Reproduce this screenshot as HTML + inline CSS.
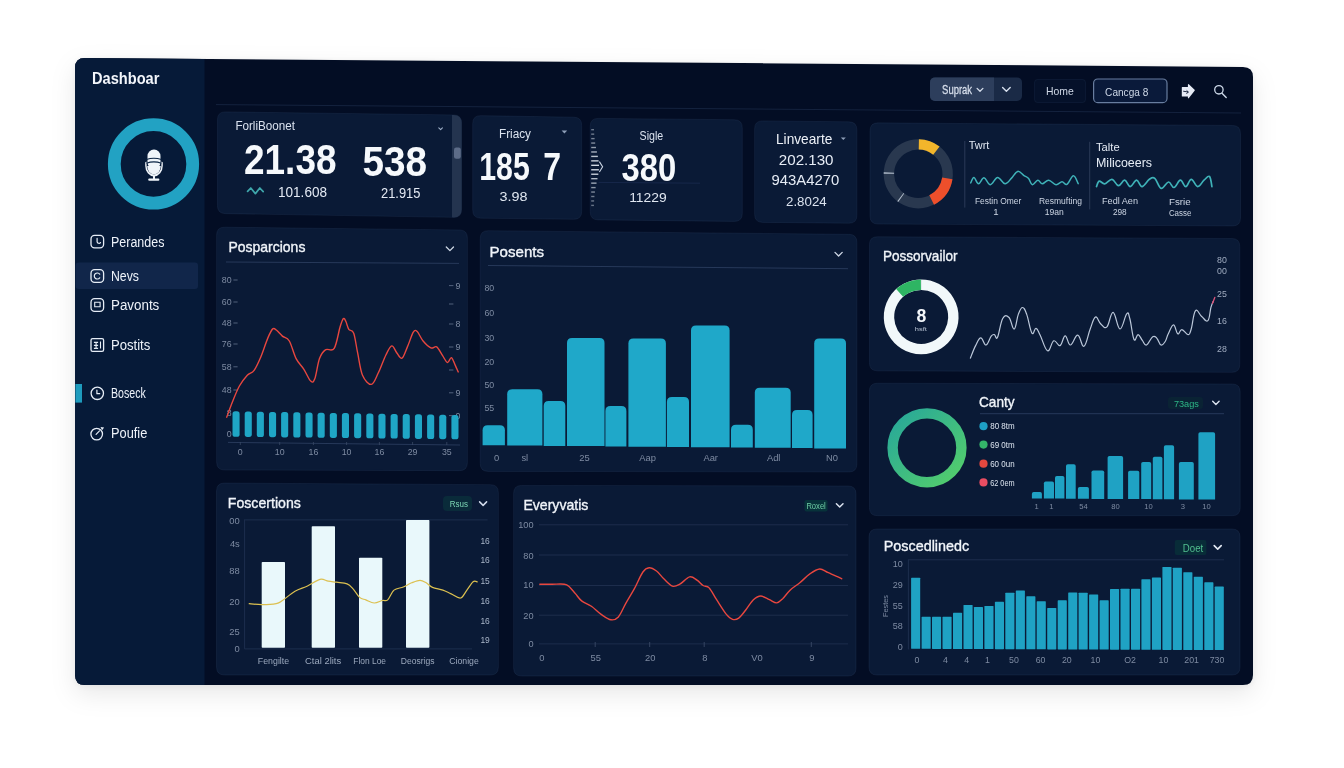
<!DOCTYPE html>
<html lang="en">
<head>
<meta charset="utf-8">
<title>Dashboard</title>
<style>
html,body{margin:0;padding:0;}
body{width:1344px;height:768px;background:#ffffff;position:relative;overflow:hidden;font-family:"Liberation Sans", sans-serif;}
.b{position:absolute;box-sizing:border-box;}
svg{position:absolute;left:0;top:0;will-change:transform;}
svg text{font-family:"Liberation Sans", sans-serif;}
</style>
</head>
<body>

<svg width="1344" height="768" viewBox="0 0 1344 768">
<defs>
<linearGradient id="gdon" x1="0" y1="0" x2="1" y2="1"><stop offset="0" stop-color="#27a79a"/><stop offset="1" stop-color="#55cf6a"/></linearGradient>
</defs>
<path d="M75,68 Q75,58 85,58.08 L1243,66.92 Q1253,67 1253,77 L1253,675 Q1253,685 1243,685 L85,685 Q75,685 75,675 Z" fill="#030d24" style="filter:drop-shadow(0 9px 12px rgba(0,0,0,0.09)) drop-shadow(0 1px 3px rgba(0,0,0,0.06));"/>
<path d="M75,68 Q75,58 85,58.08 L204.5,58.99 L204.5,685 L85,685 Q75,685 75,675 Z" fill="#061a38"/>
<line x1="216" y1="104.6" x2="1241" y2="113" stroke="#14223e" stroke-width="1"/>
<text x="92" y="84" font-size="16" fill="#f3f6fb" font-weight="700" textLength="67.4" lengthAdjust="spacingAndGlyphs">Dashboar</text>
<circle cx="153.5" cy="163.9" r="39.2" fill="none" stroke="#22a2c3" stroke-width="12.8"/>
<g fill="#f0f5fa"><rect x="147.5" y="149.6" width="13" height="19" rx="6.4"/><path d="M145.2,162.4 q0.4,-0.8 1.4,-0.6 v3.6 a7.4,9 0 0 0 14.8,0 v-3.6 q1,-0.2 1.4,0.6 v3.4 a8.8,10.6 0 0 1 -17.6,0 z"/><path d="M147.2,166 a6.8,8.4 0 0 0 13.6,0 z" /><rect x="153" y="175.6" width="2" height="3.6"/><rect x="148.2" y="178.6" width="11.2" height="2.2" rx="1.1"/><path d="M146.4,159.6 q7.4,-2.6 15,0 M146.4,163.2 q7.4,-2.6 15,0" fill="none" stroke="#0a2444" stroke-width="1.1"/></g>
<rect x="75.6" y="262.6" width="122.4" height="26.4" rx="3" fill="#11264a"/>
<rect x="75.4" y="384.0" width="6.6" height="18.6" fill="#1e9bbd"/>
<text x="111" y="246.5" font-size="14" fill="#eef3fa" textLength="53.4" lengthAdjust="spacingAndGlyphs">Perandes</text>
<rect x="91.0" y="235.29999999999998" width="12.6" height="12.6" rx="3.6" fill="none" stroke="#e6edf6" stroke-width="1.3"/>
<path d="M97.1,238.4 v3.2 a1.9,1.9 0 0 0 3.4,1" fill="none" stroke="#e6edf6" stroke-width="1.2" stroke-linecap="round"/>
<text x="111" y="280.9" font-size="14" fill="#eef3fa" textLength="28" lengthAdjust="spacingAndGlyphs">Nevs</text>
<rect x="91.0" y="269.7" width="12.6" height="12.6" rx="3.6" fill="none" stroke="#e6edf6" stroke-width="1.3"/>
<path d="M99.7,274.2 a3,3 0 1 0 0,3.6" fill="none" stroke="#e6edf6" stroke-width="1.2" stroke-linecap="round"/>
<text x="111" y="309.9" font-size="14" fill="#eef3fa" textLength="48.3" lengthAdjust="spacingAndGlyphs">Pavonts</text>
<rect x="91.0" y="298.7" width="12.6" height="12.6" rx="3.6" fill="none" stroke="#e6edf6" stroke-width="1.3"/>
<path d="M94.7,302.2 h5.4 v4.6 h-5.4 z" fill="none" stroke="#e6edf6" stroke-width="1.1"/>
<text x="111" y="349.9" font-size="14" fill="#eef3fa" textLength="39.3" lengthAdjust="spacingAndGlyphs">Postits</text>
<rect x="91.0" y="338.7" width="12.6" height="12.6" rx="1.6" fill="none" stroke="#e6edf6" stroke-width="1.3"/>
<path d="M93.89999999999999,342.4 h4.2 M93.89999999999999,345.4 h4.2 M96.1,342.4 v6 M93.89999999999999,348.4 h4.2 M100.5,341.6 v6.8" fill="none" stroke="#e6edf6" stroke-width="1.1"/>
<text x="111" y="398.2" font-size="14" fill="#eef3fa" textLength="34.8" lengthAdjust="spacingAndGlyphs">Boseck</text>
<circle cx="97.3" cy="393.3" r="6.2" fill="none" stroke="#e6edf6" stroke-width="1.3"/>
<path d="M96.89999999999999,390.1 v3.6 h2.8" fill="none" stroke="#e6edf6" stroke-width="1.2" stroke-linecap="round" stroke-linejoin="round"/>
<text x="111" y="438.4" font-size="14" fill="#eef3fa" textLength="36.3" lengthAdjust="spacingAndGlyphs">Poufie</text>
<circle cx="96.7" cy="434.1" r="5.8" fill="none" stroke="#e6edf6" stroke-width="1.3"/>
<path d="M96.1,434.3 l3.4,-3.4" fill="none" stroke="#e6edf6" stroke-width="1.2" stroke-linecap="round"/>
<path d="M100.5,427.1 l3.6,0.4 l-2,2.8 z" fill="#e6edf6"/>
<rect x="930.0" y="77.4" width="92.0" height="23.6" rx="5" fill="#1a2a46"/>
<path d="M935,77.4 h59 v23.6 h-59 a5,5 0 0 1 -5,-5 v-13.6 a5,5 0 0 1 5,-5 z" fill="#2d3e5c"/>
<text x="942.1" y="94.1" font-size="12.6" fill="#d6deeb" textLength="30" lengthAdjust="spacingAndGlyphs" stroke="#d6deeb" stroke-width="0.3">Suprak</text>
<path d="M977.1,88.35 L980,91.25 L982.9,88.35" fill="none" stroke="#d5deec" stroke-width="1.3" stroke-linecap="round" stroke-linejoin="round"/>
<path d="M1002.6,87.5 L1006.4,91.30000000000001 L1010.1999999999999,87.5" fill="none" stroke="#d5deec" stroke-width="1.4" stroke-linecap="round" stroke-linejoin="round"/>
<rect x="1034.5" y="79.5" width="51" height="23" rx="3" fill="#05112a" stroke="rgba(90,115,160,0.10)"/>
<text x="1045.9" y="94.9" font-size="10.6" fill="#d0d9e7" textLength="27.8" lengthAdjust="spacingAndGlyphs">Home</text>
<rect x="1093.6" y="79" width="73.4" height="23.6" rx="4.2" fill="#0a1a3a" stroke="#687d9f" stroke-width="1.2"/>
<text x="1105.1" y="95.5" font-size="11.7" fill="#cfd9e8" textLength="43.2" lengthAdjust="spacingAndGlyphs">Cancga 8</text>
<path d="M1181.8,87.4 q0,-0.5 0.5,-0.5 h5.6 v-2.2 q0.3,-1 1.2,-0.3 l5.5,5.3 q0.5,0.5 0,1 l-5.7,7.4 q-0.8,0.7 -1,-0.3 v-1.2 h-5.6 q-0.5,0 -0.5,-0.5 z" fill="#e6eaf5"/><path d="M1183.2,91.2 l5,0.8 m-1.6,-1.6 l1.8,1.7 l-2,1.5" fill="none" stroke="#0a1530" stroke-width="0.9"/>
<circle cx="1218.9" cy="89.8" r="4.2" fill="none" stroke="#cdd8e8" stroke-width="1.3"/><path d="M1222,93.2 l4.2,4.2" stroke="#cdd8e8" stroke-width="1.4" stroke-linecap="round"/>
<path d="M217.4,119.80 Q217.4,111.80 225.4,111.90 L453.6,114.90 Q461.6,115.00 461.6,123.00 L461.6,209.50 Q461.6,217.50 453.6,217.37 L225.4,213.63 Q217.4,213.50 217.4,205.50 Z" fill="#0a1a36" stroke="rgba(120,150,200,0.09)" stroke-width="1"/>
<path d="M472.7,123.50 Q472.7,115.50 480.7,115.63 L573.7,117.17 Q581.7,117.30 581.7,125.30 L581.7,211.40 Q581.7,219.40 573.7,219.30 L480.7,218.20 Q472.7,218.10 472.7,210.10 Z" fill="#0a1a36" stroke="rgba(120,150,200,0.09)" stroke-width="1"/>
<path d="M590.2,126.30 Q590.2,118.30 598.2,118.38 L734.3,119.72 Q742.3,119.80 742.3,127.80 L742.3,213.50 Q742.3,221.50 734.3,221.41 L598.2,219.89 Q590.2,219.80 590.2,211.80 Z" fill="#0a1a36" stroke="rgba(120,150,200,0.09)" stroke-width="1"/>
<path d="M754.6,128.80 Q754.6,120.80 762.6,120.89 L848.9,121.81 Q856.9,121.90 856.9,129.90 L856.9,215.30 Q856.9,223.30 848.9,223.22 L762.6,222.38 Q754.6,222.30 754.6,214.30 Z" fill="#0a1a36" stroke="rgba(120,150,200,0.09)" stroke-width="1"/>
<path d="M870.0,130.80 Q870.0,122.80 878.0,122.86 L1232.5,125.44 Q1240.5,125.50 1240.5,133.50 L1240.5,218.00 Q1240.5,226.00 1232.5,225.96 L878.0,224.04 Q870.0,224.00 870.0,216.00 Z" fill="#0a1a36" stroke="rgba(120,150,200,0.09)" stroke-width="1"/>
<path d="M216.6,235.10 Q216.6,227.10 224.6,227.19 L459.4,229.91 Q467.4,230.00 467.4,238.00 L467.4,462.70 Q467.4,470.70 459.4,470.68 L224.6,470.02 Q216.6,470.00 216.6,462.00 Z" fill="#0a1a36" stroke="rgba(120,150,200,0.09)" stroke-width="1"/>
<path d="M480.2,238.60 Q480.2,230.60 488.2,230.68 L848.9,234.32 Q856.9,234.40 856.9,242.40 L856.9,464.00 Q856.9,472.00 848.9,471.99 L488.2,471.41 Q480.2,471.40 480.2,463.40 Z" fill="#0a1a36" stroke="rgba(120,150,200,0.09)" stroke-width="1"/>
<path d="M869.4,244.70 Q869.4,236.70 877.4,236.74 L1231.8,238.46 Q1239.8,238.50 1239.8,246.50 L1239.8,364.40 Q1239.8,372.40 1231.8,372.37 L877.4,370.83 Q869.4,370.80 869.4,362.80 Z" fill="#0a1a36" stroke="rgba(120,150,200,0.09)" stroke-width="1"/>
<path d="M869.4,391.20 Q869.4,383.20 877.4,383.22 L1232.2,383.98 Q1240.2,384.00 1240.2,392.00 L1240.2,507.70 Q1240.2,515.70 1232.2,515.70 L877.4,515.70 Q869.4,515.70 869.4,507.70 Z" fill="#0a1a36" stroke="rgba(120,150,200,0.09)" stroke-width="1"/>
<path d="M216.5,491.00 Q216.5,483.00 224.5,483.05 L490.4,484.65 Q498.4,484.70 498.4,492.70 L498.4,667.00 Q498.4,675.00 490.4,675.00 L224.5,675.00 Q216.5,675.00 216.5,667.00 Z" fill="#0a1a36" stroke="rgba(120,150,200,0.09)" stroke-width="1"/>
<path d="M513.6,493.40 Q513.6,485.40 521.6,485.41 L848.0,485.99 Q856.0,486.00 856.0,494.00 L856.0,668.00 Q856.0,676.00 848.0,676.00 L521.6,676.00 Q513.6,676.00 513.6,668.00 Z" fill="#0a1a36" stroke="rgba(120,150,200,0.09)" stroke-width="1"/>
<path d="M869.0,537.00 Q869.0,529.00 877.0,529.00 L1232.0,529.00 Q1240.0,529.00 1240.0,537.00 L1240.0,667.00 Q1240.0,675.00 1232.0,675.00 L877.0,675.00 Q869.0,675.00 869.0,667.00 Z" fill="#0a1a36" stroke="rgba(120,150,200,0.09)" stroke-width="1"/>
<path d="M452,114.9 L453.6,114.9 Q461.6,115 461.6,123 L461.6,209.5 Q461.6,217.5 453.6,217.4 L452,217.3 Z" fill="#24344f"/>
<rect x="454.0" y="147.5" width="6.8" height="11.3" rx="2.2" fill="#5d6c88"/>
<text x="235.4" y="130.2" font-size="13" fill="#d9e1ee" textLength="59.6" lengthAdjust="spacingAndGlyphs">ForliBoonet</text>
<path d="M438.8,127.9 L440.6,129.70000000000002 L442.40000000000003,127.9" fill="none" stroke="#9fb0c8" stroke-width="1.1" stroke-linecap="round" stroke-linejoin="round"/>
<text x="244" y="174.4" font-size="42" fill="#f6f9fc" font-weight="700" textLength="92.5" lengthAdjust="spacingAndGlyphs">21.38</text>
<text x="362.4" y="176.0" font-size="42" fill="#f6f9fc" font-weight="700" textLength="64.6" lengthAdjust="spacingAndGlyphs">538</text>
<path d="M247.6,191.4 l3.2,-3.4 l4.6,5.6 l4.4,-5.6 l3.4,3.6" fill="none" stroke="#3fa7ac" stroke-width="1.7" stroke-linecap="round" stroke-linejoin="round"/>
<text x="278" y="196.6" font-size="15.5" fill="#e3e9f3" textLength="49" lengthAdjust="spacingAndGlyphs">101.608</text>
<text x="381" y="197.6" font-size="15.5" fill="#e3e9f3" textLength="39.4" lengthAdjust="spacingAndGlyphs">21.915</text>
<text x="499" y="138.4" font-size="12.5" fill="#dbe3ef" textLength="32" lengthAdjust="spacingAndGlyphs">Friacy</text>
<path d="M561.6,130.6 h5.6 l-2.8,3 z" fill="#8fa0b9"/>
<text x="479.2" y="179.6" font-size="38.5" fill="#f6f9fc" font-weight="700" textLength="50.6" lengthAdjust="spacingAndGlyphs">185</text>
<text x="543.2" y="179.9" font-size="38.5" fill="#f6f9fc" font-weight="700" textLength="17.8" lengthAdjust="spacingAndGlyphs">7</text>
<text x="499.6" y="200.8" font-size="13.6" fill="#e0e7f1" textLength="28" lengthAdjust="spacingAndGlyphs">3.98</text>
<line x1="591.2" y1="129.7" x2="594.0004856808652" y2="129.7" stroke="#e3eaf3" stroke-width="1.4" opacity="0.44"/>
<line x1="591.2" y1="134.153" x2="594.2190469234025" y2="134.153" stroke="#e3eaf3" stroke-width="1.4" opacity="0.46"/>
<line x1="591.2" y1="138.606" x2="594.5968807307748" y2="138.606" stroke="#e3eaf3" stroke-width="1.4" opacity="0.5"/>
<line x1="591.2" y1="143.059" x2="595.1787177488005" y2="143.059" stroke="#e3eaf3" stroke-width="1.4" opacity="0.55"/>
<line x1="591.2" y1="147.512" x2="595.9702450773963" y2="147.512" stroke="#e3eaf3" stroke-width="1.4" opacity="0.63"/>
<line x1="591.2" y1="151.96499999999997" x2="596.9080898521122" y2="151.96499999999997" stroke="#e3eaf3" stroke-width="1.4" opacity="0.72"/>
<line x1="591.2" y1="156.418" x2="597.8497640719713" y2="156.418" stroke="#e3eaf3" stroke-width="1.4" opacity="0.81"/>
<line x1="591.2" y1="160.87099999999998" x2="598.6008402310454" y2="160.87099999999998" stroke="#e3eaf3" stroke-width="1.4" opacity="0.88"/>
<line x1="591.2" y1="165.32399999999998" x2="598.9779297667549" y2="165.32399999999998" stroke="#e3eaf3" stroke-width="1.4" opacity="0.92"/>
<line x1="591.2" y1="169.777" x2="598.8809676502135" y2="169.777" stroke="#e3eaf3" stroke-width="1.4" opacity="0.91"/>
<line x1="591.2" y1="174.23" x2="598.336156990304" y2="174.23" stroke="#e3eaf3" stroke-width="1.4" opacity="0.86"/>
<line x1="591.2" y1="178.683" x2="597.4845215026219" y2="178.683" stroke="#e3eaf3" stroke-width="1.4" opacity="0.77"/>
<line x1="591.2" y1="183.136" x2="596.5228610939595" y2="183.136" stroke="#e3eaf3" stroke-width="1.4" opacity="0.68"/>
<line x1="591.2" y1="187.589" x2="595.6307171492558" y2="187.589" stroke="#e3eaf3" stroke-width="1.4" opacity="0.6"/>
<line x1="591.2" y1="192.042" x2="594.919871997896" y2="192.042" stroke="#e3eaf3" stroke-width="1.4" opacity="0.53"/>
<line x1="591.2" y1="196.495" x2="594.4232566099793" y2="196.495" stroke="#e3eaf3" stroke-width="1.4" opacity="0.48"/>
<line x1="591.2" y1="200.94799999999998" x2="594.1155853055236" y2="200.94799999999998" stroke="#e3eaf3" stroke-width="1.4" opacity="0.45"/>
<line x1="591.2" y1="205.401" x2="593.9453844725983" y2="205.401" stroke="#e3eaf3" stroke-width="1.4" opacity="0.43"/>
<path d="M599.4,161.6 l3.2,5.2 l-3.2,5.2" fill="none" stroke="#c9d3e2" stroke-width="1.1"/>
<line x1="598.6" y1="182.4" x2="700" y2="183.2" stroke="#16274a" stroke-width="1"/>
<text x="639.6" y="140" font-size="12.5" fill="#dbe3ef" textLength="23.6" lengthAdjust="spacingAndGlyphs">Sigle</text>
<text x="621.6" y="181.3" font-size="39" fill="#f6f9fc" font-weight="700" textLength="54.8" lengthAdjust="spacingAndGlyphs">380</text>
<text x="629.2" y="202.1" font-size="13.6" fill="#e0e7f1" textLength="37.5" lengthAdjust="spacingAndGlyphs">11229</text>
<text x="776" y="143.8" font-size="15" fill="#eef2f8" textLength="56.3" lengthAdjust="spacingAndGlyphs">Linvearte</text>
<path d="M840.8,137.4 h5 l-2.5,2.6 z" fill="#8fa0b9"/>
<text x="778.8" y="164.7" font-size="15.2" fill="#e6ecf5" textLength="54.7" lengthAdjust="spacingAndGlyphs">202.130</text>
<text x="771.5" y="185.4" font-size="15.2" fill="#e6ecf5" textLength="67.7" lengthAdjust="spacingAndGlyphs">943A4270</text>
<text x="786" y="205.6" font-size="13" fill="#dbe3ef" textLength="40.7" lengthAdjust="spacingAndGlyphs">2.8024</text>
<path d="M918.30,144.40 A29.4,29.4 0 1 1 918.25,144.40" fill="none" stroke="#29384f" stroke-width="10.4" stroke-linecap="butt"/>
<path d="M918.81,144.40 A29.4,29.4 0 0 1 936.40,150.63" fill="none" stroke="#f2b52b" stroke-width="10.4" stroke-linecap="butt"/>
<path d="M947.34,178.40 A29.4,29.4 0 0 1 931.65,200.00" fill="none" stroke="#ee4f2b" stroke-width="10.4" stroke-linecap="butt"/>
<path d="M888.90,173.70 A29.4,29.4 0 0 1 888.93,172.57" fill="none" stroke="#b4bfce" stroke-width="10.4" stroke-linecap="butt"/>
<path d="M901.19,197.71 A29.4,29.4 0 0 1 900.44,197.16" fill="none" stroke="#b4bfce" stroke-width="10.4" stroke-linecap="butt"/>
<line x1="964.8" y1="141" x2="964.8" y2="207.6" stroke="#2a3a57" stroke-width="1"/>
<line x1="1089.7" y1="141.8" x2="1089.7" y2="209.4" stroke="#2a3a57" stroke-width="1"/>
<text x="968.8" y="149.2" font-size="11" fill="#dfe6f1" textLength="20.6" lengthAdjust="spacingAndGlyphs">Twrt</text>
<path d="M970.7,182.9 C971.3,181.9 972.6,177.3 974.0,177.5 C975.4,177.7 976.7,183.7 978.5,183.8 C980.3,183.9 981.8,177.6 984.0,177.8 C986.2,178.0 987.9,184.8 990.4,184.7 C992.9,184.6 994.9,177.7 997.6,177.5 C1000.3,177.3 1002.5,183.6 1005.0,183.8 C1007.5,184.0 1009.0,180.7 1011.3,178.4 C1013.6,176.1 1015.4,171.9 1017.7,171.4 C1020.0,170.9 1022.0,174.3 1024.0,175.6 C1026.0,176.9 1027.1,176.7 1028.6,178.4 C1030.1,180.1 1030.6,184.4 1032.3,184.7 C1034.0,185.0 1036.0,180.4 1037.8,180.2 C1039.6,180.0 1040.3,183.8 1042.3,183.8 C1044.3,183.8 1046.2,180.0 1048.7,180.2 C1051.2,180.4 1053.6,184.4 1056.0,184.7 C1058.4,185.0 1060.0,181.9 1062.0,181.8 C1064.0,181.7 1064.9,185.5 1067.0,184.4 C1069.1,183.3 1071.3,175.9 1073.4,175.8 C1075.5,175.7 1077.3,182.2 1078.2,183.6" fill="none" stroke="#3fb2b8" stroke-width="1.5" stroke-linejoin="round" stroke-linecap="round"/>
<text x="998.1" y="203.9" font-size="9.6" fill="#ccd5e3" text-anchor="middle" textLength="46.4" lengthAdjust="spacingAndGlyphs">Festin Omer</text>
<text x="995.8" y="214.8" font-size="9.6" fill="#ccd5e3" text-anchor="middle">1</text>
<text x="1060.4" y="204.3" font-size="9.6" fill="#ccd5e3" text-anchor="middle" textLength="43" lengthAdjust="spacingAndGlyphs">Resmufting</text>
<text x="1054.2" y="215.2" font-size="9.6" fill="#ccd5e3" text-anchor="middle" textLength="19" lengthAdjust="spacingAndGlyphs">19an</text>
<text x="1096" y="150.5" font-size="11.6" fill="#e6ecf5" textLength="23.6" lengthAdjust="spacingAndGlyphs">Talte</text>
<text x="1096" y="166.5" font-size="12.6" fill="#e6ecf5" textLength="56" lengthAdjust="spacingAndGlyphs">Milicoeers</text>
<path d="M1096.5,186.6 C1097.0,185.6 1097.7,181.6 1099.2,181.1 C1100.7,180.6 1102.4,184.1 1104.7,183.8 C1107.0,183.5 1109.5,179.0 1112.0,179.3 C1114.5,179.6 1116.1,185.5 1118.4,185.7 C1120.7,185.9 1122.5,180.0 1124.7,180.2 C1126.9,180.4 1128.0,186.6 1130.2,186.6 C1132.4,186.6 1134.4,180.2 1136.6,180.2 C1138.8,180.2 1139.7,186.8 1142.0,186.6 C1144.3,186.4 1147.1,180.8 1149.4,179.3 C1151.7,177.8 1152.6,176.7 1154.8,178.4 C1157.0,180.1 1158.7,187.7 1161.2,188.4 C1163.7,189.1 1166.2,182.2 1168.5,182.0 C1170.8,181.8 1171.8,187.8 1174.0,187.5 C1176.2,187.2 1178.2,180.4 1180.4,180.2 C1182.6,180.0 1183.8,186.8 1185.8,186.6 C1187.8,186.4 1189.1,179.3 1191.3,179.3 C1193.5,179.3 1195.4,186.4 1197.7,186.6 C1200.0,186.8 1201.8,182.1 1204.0,180.2 C1206.2,178.3 1208.1,175.3 1209.5,176.5 C1210.9,177.7 1211.5,184.7 1211.9,186.6" fill="none" stroke="#3fb2b8" stroke-width="1.7" stroke-linejoin="round" stroke-linecap="round"/>
<text x="1120" y="204.4" font-size="9.6" fill="#ccd5e3" text-anchor="middle" textLength="36" lengthAdjust="spacingAndGlyphs">Fedl Aen</text>
<text x="1119.8" y="215.4" font-size="9.6" fill="#ccd5e3" text-anchor="middle" textLength="13.8" lengthAdjust="spacingAndGlyphs">298</text>
<text x="1179.8" y="204.8" font-size="9.6" fill="#ccd5e3" text-anchor="middle" textLength="21.8" lengthAdjust="spacingAndGlyphs">Fsrie</text>
<text x="1180.1" y="215.7" font-size="9.6" fill="#ccd5e3" text-anchor="middle" textLength="22.4" lengthAdjust="spacingAndGlyphs">Casse</text>
<text x="228.4" y="252.1" font-size="15" fill="#f1f5fa" textLength="77" lengthAdjust="spacingAndGlyphs" stroke="#f1f5fa" stroke-width="0.35">Posparcions</text>
<path d="M446.29999999999995,247.0 L449.9,250.60000000000002 L453.5,247.0" fill="none" stroke="#cfd8e6" stroke-width="1.3" stroke-linecap="round" stroke-linejoin="round"/>
<line x1="226" y1="262" x2="459" y2="263.4" stroke="#27395a" stroke-width="1"/>
<text x="231.6" y="283.1" font-size="8.8" fill="#7e8ba2" text-anchor="end">80</text>
<line x1="233.4" y1="280" x2="237.6" y2="280" stroke="#5a6984" stroke-width="0.9"/>
<text x="231.6" y="305.1" font-size="8.8" fill="#7e8ba2" text-anchor="end">60</text>
<line x1="233.4" y1="302" x2="237.6" y2="302" stroke="#5a6984" stroke-width="0.9"/>
<text x="231.6" y="326.1" font-size="8.8" fill="#7e8ba2" text-anchor="end">48</text>
<line x1="233.4" y1="323" x2="237.6" y2="323" stroke="#5a6984" stroke-width="0.9"/>
<text x="231.6" y="347.1" font-size="8.8" fill="#7e8ba2" text-anchor="end">76</text>
<line x1="233.4" y1="344" x2="237.6" y2="344" stroke="#5a6984" stroke-width="0.9"/>
<text x="231.6" y="369.90000000000003" font-size="8.8" fill="#7e8ba2" text-anchor="end">58</text>
<line x1="233.4" y1="366.8" x2="237.6" y2="366.8" stroke="#5a6984" stroke-width="0.9"/>
<text x="231.6" y="393.1" font-size="8.8" fill="#7e8ba2" text-anchor="end">48</text>
<line x1="233.4" y1="390" x2="237.6" y2="390" stroke="#5a6984" stroke-width="0.9"/>
<text x="231.6" y="416.1" font-size="8.8" fill="#7e8ba2" text-anchor="end">8</text>
<text x="231.6" y="437.1" font-size="8.8" fill="#7e8ba2" text-anchor="end">0</text>
<line x1="449" y1="285.6" x2="453.4" y2="285.6" stroke="#5a6984" stroke-width="0.9"/>
<text x="455.4" y="288.70000000000005" font-size="8.8" fill="#7e8ba2">9</text>
<line x1="449" y1="304" x2="453.4" y2="304" stroke="#5a6984" stroke-width="0.9"/>
<line x1="449" y1="324" x2="453.4" y2="324" stroke="#5a6984" stroke-width="0.9"/>
<text x="455.4" y="327.1" font-size="8.8" fill="#7e8ba2">8</text>
<line x1="449" y1="347" x2="453.4" y2="347" stroke="#5a6984" stroke-width="0.9"/>
<text x="455.4" y="350.1" font-size="8.8" fill="#7e8ba2">9</text>
<line x1="449" y1="370" x2="453.4" y2="370" stroke="#5a6984" stroke-width="0.9"/>
<line x1="449" y1="392.8" x2="453.4" y2="392.8" stroke="#5a6984" stroke-width="0.9"/>
<text x="455.4" y="395.90000000000003" font-size="8.8" fill="#7e8ba2">9</text>
<line x1="449" y1="415.6" x2="453.4" y2="415.6" stroke="#5a6984" stroke-width="0.9"/>
<text x="455.4" y="418.70000000000005" font-size="8.8" fill="#7e8ba2">0</text>
<rect x="232.5" y="411.3" width="7.1" height="25.5" rx="2.6" fill="#1fa6c6"/>
<rect x="244.7" y="411.5" width="7.1" height="25.4" rx="2.6" fill="#1fa6c6"/>
<rect x="256.8" y="411.7" width="7.1" height="25.4" rx="2.6" fill="#1fa6c6"/>
<rect x="269.0" y="411.9" width="7.1" height="25.3" rx="2.6" fill="#1fa6c6"/>
<rect x="281.1" y="412.1" width="7.1" height="25.3" rx="2.6" fill="#1fa6c6"/>
<rect x="293.3" y="412.3" width="7.1" height="25.2" rx="2.6" fill="#1fa6c6"/>
<rect x="305.5" y="412.5" width="7.1" height="25.1" rx="2.6" fill="#1fa6c6"/>
<rect x="317.6" y="412.7" width="7.1" height="25.1" rx="2.6" fill="#1fa6c6"/>
<rect x="329.8" y="412.9" width="7.1" height="25.0" rx="2.6" fill="#1fa6c6"/>
<rect x="341.9" y="413.1" width="7.1" height="25.0" rx="2.6" fill="#1fa6c6"/>
<rect x="354.1" y="413.3" width="7.1" height="24.9" rx="2.6" fill="#1fa6c6"/>
<rect x="366.3" y="413.5" width="7.1" height="24.8" rx="2.6" fill="#1fa6c6"/>
<rect x="378.4" y="413.7" width="7.1" height="24.8" rx="2.6" fill="#1fa6c6"/>
<rect x="390.6" y="413.9" width="7.1" height="24.7" rx="2.6" fill="#1fa6c6"/>
<rect x="402.7" y="414.1" width="7.1" height="24.7" rx="2.6" fill="#1fa6c6"/>
<rect x="414.9" y="414.3" width="7.1" height="24.6" rx="2.6" fill="#1fa6c6"/>
<rect x="427.1" y="414.5" width="7.1" height="24.5" rx="2.6" fill="#1fa6c6"/>
<rect x="439.2" y="414.7" width="7.1" height="24.5" rx="2.6" fill="#1fa6c6"/>
<rect x="451.4" y="414.9" width="7.1" height="24.4" rx="2.6" fill="#1fa6c6"/>
<line x1="228" y1="442.4" x2="460" y2="445" stroke="#27395a" stroke-width="1"/>
<path d="M226.7,417.2 C227.7,414.6 230.5,406.8 232.6,401.6 C234.7,396.4 236.9,390.4 239.4,386.0 C241.9,381.6 244.9,377.8 247.3,375.2 C249.8,372.6 251.8,373.4 254.1,370.3 C256.4,367.2 258.6,362.1 260.9,356.7 C263.2,351.3 265.8,342.7 267.8,338.1 C269.8,333.5 271.2,330.2 272.7,328.9 C274.2,327.6 275.0,329.1 276.6,330.3 C278.2,331.5 280.3,334.3 282.4,336.1 C284.5,337.9 287.0,337.2 289.3,341.0 C291.6,344.8 293.7,353.9 296.1,358.6 C298.5,363.3 301.5,365.6 303.9,369.3 C306.3,373.1 308.9,379.5 310.7,381.1 C312.5,382.7 313.2,382.9 314.7,379.1 C316.2,375.4 317.7,363.5 319.5,358.6 C321.3,353.7 322.9,351.5 325.4,349.8 C327.8,348.1 331.8,352.1 334.2,348.4 C336.6,344.6 338.5,332.3 340.0,327.3 C341.5,322.3 342.4,319.6 343.4,318.6 C344.4,317.6 345.0,319.7 345.9,321.5 C346.8,323.3 347.5,327.4 348.8,329.3 C350.1,331.2 352.2,329.3 353.7,333.2 C355.2,337.1 356.1,345.7 357.6,352.7 C359.1,359.7 360.2,369.9 362.5,375.2 C364.8,380.5 368.7,384.7 371.3,384.4 C373.9,384.1 375.7,378.2 378.1,373.3 C380.6,368.4 383.7,359.3 386.0,354.7 C388.3,350.1 390.0,346.2 391.8,345.9 C393.6,345.6 395.0,350.6 396.7,352.7 C398.4,354.8 400.2,359.2 402.0,358.2 C403.8,357.2 405.5,351.2 407.4,346.9 C409.3,342.6 411.7,334.8 413.3,332.2 C414.9,329.6 415.6,330.1 417.2,331.6 C418.8,333.1 420.8,338.3 423.1,341.0 C425.4,343.7 428.6,346.9 430.9,347.9 C433.2,348.9 434.8,345.6 436.7,346.9 C438.6,348.2 440.8,353.1 442.6,355.7 C444.4,358.3 446.0,362.2 447.5,362.5 C449.0,362.8 450.1,357.1 451.4,357.6 C452.7,358.1 454.2,363.0 455.3,365.4 C456.4,367.8 457.7,370.8 458.2,371.9" fill="none" stroke="#e8473f" stroke-width="1.4" stroke-linejoin="round" stroke-linecap="round"/>
<text x="240.3" y="455" font-size="8.8" fill="#7e8ba2" text-anchor="middle">0</text>
<line x1="240.3" y1="442" x2="240.3" y2="445" stroke="#3a4a66" stroke-width="0.8"/>
<text x="279.7" y="455" font-size="8.8" fill="#7e8ba2" text-anchor="middle">10</text>
<line x1="279.7" y1="442" x2="279.7" y2="445" stroke="#3a4a66" stroke-width="0.8"/>
<text x="313.4" y="455" font-size="8.8" fill="#7e8ba2" text-anchor="middle">16</text>
<line x1="313.4" y1="442" x2="313.4" y2="445" stroke="#3a4a66" stroke-width="0.8"/>
<text x="346.6" y="455" font-size="8.8" fill="#7e8ba2" text-anchor="middle">10</text>
<line x1="346.6" y1="442" x2="346.6" y2="445" stroke="#3a4a66" stroke-width="0.8"/>
<text x="379.4" y="455" font-size="8.8" fill="#7e8ba2" text-anchor="middle">16</text>
<line x1="379.4" y1="442" x2="379.4" y2="445" stroke="#3a4a66" stroke-width="0.8"/>
<text x="412.6" y="455" font-size="8.8" fill="#7e8ba2" text-anchor="middle">29</text>
<line x1="412.6" y1="442" x2="412.6" y2="445" stroke="#3a4a66" stroke-width="0.8"/>
<text x="446.8" y="455" font-size="8.8" fill="#7e8ba2" text-anchor="middle">35</text>
<line x1="446.8" y1="442" x2="446.8" y2="445" stroke="#3a4a66" stroke-width="0.8"/>
<text x="489.5" y="256.8" font-size="15" fill="#f1f5fa" textLength="54.5" lengthAdjust="spacingAndGlyphs" stroke="#f1f5fa" stroke-width="0.35">Posents</text>
<path d="M835.0,252.39999999999998 L838.6,256.0 L842.2,252.39999999999998" fill="none" stroke="#cfd8e6" stroke-width="1.3" stroke-linecap="round" stroke-linejoin="round"/>
<line x1="488" y1="265.5" x2="848" y2="268.7" stroke="#27395a" stroke-width="1"/>
<text x="484.4" y="291.1" font-size="8.8" fill="#7e8ba2">80</text>
<text x="484.4" y="316.1" font-size="8.8" fill="#7e8ba2">60</text>
<text x="484.4" y="341.1" font-size="8.8" fill="#7e8ba2">30</text>
<text x="484.4" y="365.1" font-size="8.8" fill="#7e8ba2">20</text>
<text x="484.4" y="387.70000000000005" font-size="8.8" fill="#7e8ba2">50</text>
<text x="484.4" y="410.70000000000005" font-size="8.8" fill="#7e8ba2">55</text>
<path d="M482.6,445.3 L482.6,430.2 Q482.6,425.2 487.6,425.2 L499.9,425.2 Q504.9,425.2 504.9,430.2 L504.9,445.3 Z" fill="#1fa8c9"/>
<path d="M507.2,445.6 L507.2,394.3 Q507.2,389.3 512.2,389.3 L537.4,389.3 Q542.4,389.3 542.4,394.3 L542.4,445.6 Z" fill="#1fa8c9"/>
<path d="M543.7,445.9 L543.7,406.0 Q543.7,401.0 548.7,401.0 L560.3,401.0 Q565.3,401.0 565.3,406.0 L565.3,445.9 Z" fill="#1fa8c9"/>
<path d="M567.0,446.1 L567.0,342.9 Q567.0,337.9 572.0,337.9 L599.5,337.9 Q604.5,337.9 604.5,342.9 L604.5,446.1 Z" fill="#1fa8c9"/>
<path d="M605.4,446.4 L605.4,411.0 Q605.4,406.0 610.4,406.0 L621.4,406.0 Q626.4,406.0 626.4,411.0 L626.4,446.4 Z" fill="#1fa8c9"/>
<path d="M628.4,446.7 L628.4,343.5 Q628.4,338.5 633.4,338.5 L660.9,338.5 Q665.9,338.5 665.9,343.5 L665.9,446.7 Z" fill="#1fa8c9"/>
<path d="M666.9,447.0 L666.9,402.0 Q666.9,397.0 671.9,397.0 L684.0,397.0 Q689.0,397.0 689.0,402.0 L689.0,447.0 Z" fill="#1fa8c9"/>
<path d="M691.0,447.3 L691.0,330.6 Q691.0,325.6 696.0,325.6 L724.6,325.6 Q729.6,325.6 729.6,330.6 L729.6,447.3 Z" fill="#1fa8c9"/>
<path d="M731.0,447.6 L731.0,429.8 Q731.0,424.8 736.0,424.8 L747.8,424.8 Q752.8,424.8 752.8,429.8 L752.8,447.6 Z" fill="#1fa8c9"/>
<path d="M754.8,447.8 L754.8,392.7 Q754.8,387.7 759.8,387.7 L785.7,387.7 Q790.7,387.7 790.7,392.7 L790.7,447.8 Z" fill="#1fa8c9"/>
<path d="M792.0,448.1 L792.0,415.0 Q792.0,410.0 797.0,410.0 L807.6,410.0 Q812.6,410.0 812.6,415.0 L812.6,448.1 Z" fill="#1fa8c9"/>
<path d="M814.2,448.4 L814.2,343.5 Q814.2,338.5 819.2,338.5 L841.0,338.5 Q846.0,338.5 846.0,343.5 L846.0,448.4 Z" fill="#1fa8c9"/>
<text x="496.6" y="460.6" font-size="9.4" fill="#7e8ba2" text-anchor="middle">0</text>
<text x="524.8" y="460.6" font-size="9.4" fill="#7e8ba2" text-anchor="middle">sl</text>
<text x="584.5" y="460.6" font-size="9.4" fill="#7e8ba2" text-anchor="middle">25</text>
<text x="647.6" y="460.6" font-size="9.4" fill="#7e8ba2" text-anchor="middle">Aap</text>
<text x="710.7" y="460.6" font-size="9.4" fill="#7e8ba2" text-anchor="middle">Aar</text>
<text x="773.7" y="460.6" font-size="9.4" fill="#7e8ba2" text-anchor="middle">Adl</text>
<text x="832" y="460.6" font-size="9.4" fill="#7e8ba2" text-anchor="middle">N0</text>
<text x="882.9" y="261.3" font-size="15" fill="#f1f5fa" textLength="74.6" lengthAdjust="spacingAndGlyphs" stroke="#f1f5fa" stroke-width="0.35">Possorvailor</text>
<path d="M921.20,284.70 A32.2,32.2 0 1 1 921.14,284.70" fill="none" stroke="#f1f8fa" stroke-width="10.4" stroke-linecap="butt"/>
<path d="M899.65,292.97 A32.2,32.2 0 0 1 920.92,284.70" fill="none" stroke="#2eb563" stroke-width="10.4" stroke-linecap="butt"/>
<text x="921.5" y="321.8" font-size="18" fill="#f4f7fb" font-weight="700" text-anchor="middle" textLength="9.8" lengthAdjust="spacingAndGlyphs">8</text>
<text x="920.8" y="331" font-size="6" fill="#b9c4d4" text-anchor="middle" textLength="12" lengthAdjust="spacingAndGlyphs">hsft</text>
<path d="M970.4,358.1 C971.4,355.6 973.5,349.6 975.6,345.6 C977.7,341.6 978.7,338.0 980.8,337.9 C982.9,337.8 983.9,345.3 986.0,345.0 C988.1,344.7 989.5,338.3 991.2,336.2 C992.9,334.1 993.1,334.4 994.4,334.6 C995.7,334.8 995.8,340.5 997.5,337.3 C999.2,334.1 1000.4,322.5 1002.7,318.5 C1005.0,314.5 1006.7,315.4 1009.0,317.5 C1011.3,319.6 1012.3,329.6 1014.2,329.0 C1016.1,328.4 1016.6,318.7 1018.3,314.4 C1020.0,310.1 1020.8,307.5 1022.5,307.5 C1024.2,307.5 1024.8,309.3 1026.7,314.4 C1028.6,319.5 1030.0,330.3 1031.9,333.1 C1033.8,335.9 1034.3,327.9 1036.0,328.3 C1037.7,328.7 1037.9,330.7 1040.2,335.2 C1042.5,339.7 1044.8,349.7 1047.5,350.8 C1050.2,351.9 1051.3,341.8 1053.8,340.8 C1056.3,339.8 1057.7,346.6 1060.0,345.6 C1062.3,344.6 1063.1,335.9 1065.2,335.8 C1067.3,335.7 1067.9,345.1 1070.4,345.0 C1072.9,344.9 1075.0,335.0 1077.7,335.2 C1080.4,335.4 1081.5,347.4 1084.0,346.2 C1086.5,345.0 1087.9,334.8 1090.2,329.0 C1092.5,323.2 1093.3,318.1 1095.4,317.1 C1097.5,316.1 1098.3,321.8 1100.6,323.8 C1102.9,325.8 1104.4,329.2 1106.9,326.9 C1109.4,324.6 1110.5,311.9 1113.1,312.3 C1115.7,312.7 1117.3,328.7 1120.0,329.0 C1122.7,329.3 1124.7,315.9 1126.7,313.8 C1128.7,311.7 1128.3,313.4 1129.8,318.5 C1131.3,323.6 1132.3,336.2 1134.0,339.4 C1135.7,342.6 1136.4,334.4 1138.1,334.6 C1139.8,334.8 1140.6,338.3 1142.3,340.4 C1144.0,342.5 1144.4,345.7 1146.5,345.0 C1148.6,344.3 1150.6,338.0 1152.7,336.7 C1154.8,335.4 1155.2,336.6 1156.9,338.3 C1158.6,340.0 1159.3,344.4 1161.0,345.0 C1162.7,345.6 1163.7,343.7 1165.2,341.5 C1166.7,339.3 1166.6,337.1 1168.3,333.8 C1170.0,330.5 1171.6,324.8 1173.5,324.8 C1175.4,324.8 1176.0,332.8 1177.7,333.8 C1179.4,334.8 1179.8,329.4 1181.9,329.6 C1184.0,329.8 1186.2,334.7 1188.1,334.6 C1190.0,334.5 1189.7,333.8 1191.2,329.0 C1192.7,324.2 1193.3,313.3 1195.4,310.8 C1197.5,308.3 1199.2,314.5 1201.7,316.5 C1204.2,318.5 1206.0,322.5 1207.9,320.6 C1209.8,318.7 1209.9,310.9 1211.0,307.1 C1212.1,303.3 1212.8,302.5 1213.2,301.4" fill="none" stroke="#bcc8da" stroke-width="1.2" stroke-linejoin="round" stroke-linecap="round"/>
<path d="M1212.4,303.4 L1214.8,297.4" stroke="#e0567c" stroke-width="1.3" stroke-linecap="round"/>
<text x="1217" y="262.7" font-size="8.8" fill="#a0acc0">80</text>
<text x="1217" y="274.0" font-size="8.8" fill="#a0acc0">00</text>
<text x="1217" y="297.4" font-size="8.8" fill="#a0acc0">25</text>
<text x="1217" y="324.4" font-size="8.8" fill="#a0acc0">16</text>
<text x="1217" y="351.5" font-size="8.8" fill="#a0acc0">28</text>
<text x="979" y="406.5" font-size="15" fill="#f1f5fa" textLength="35.6" lengthAdjust="spacingAndGlyphs" stroke="#f1f5fa" stroke-width="0.35">Canty</text>
<rect x="1168.0" y="397.0" width="35.0" height="12.0" rx="3" fill="#0a2334"/>
<text x="1186.4" y="407" font-size="9.4" fill="#2db787" text-anchor="middle" textLength="25" lengthAdjust="spacingAndGlyphs">73ags</text>
<path d="M1212.7,401.2 L1215.9,404.40000000000003 L1219.1000000000001,401.2" fill="none" stroke="#dbe3ef" stroke-width="1.4" stroke-linecap="round" stroke-linejoin="round"/>
<line x1="980" y1="413.7" x2="1224" y2="413.7" stroke="#27395a" stroke-width="1"/>
<circle cx="927" cy="447.8" r="34.4" fill="none" stroke="url(#gdon)" stroke-width="10.4"/>
<circle cx="983.5" cy="426.2" r="4.1" fill="#1e9fc4"/>
<text x="990.2" y="429.3" font-size="8.6" fill="#dbe3ee" textLength="24.4" lengthAdjust="spacingAndGlyphs">80 8tm</text>
<circle cx="983.5" cy="444.6" r="4.1" fill="#34b56a"/>
<text x="990.2" y="447.70000000000005" font-size="8.6" fill="#dbe3ee" textLength="24.4" lengthAdjust="spacingAndGlyphs">69 0tm</text>
<circle cx="983.5" cy="463.7" r="4.1" fill="#e5483f"/>
<text x="990.2" y="466.8" font-size="8.6" fill="#dbe3ee" textLength="24.4" lengthAdjust="spacingAndGlyphs">60 0un</text>
<circle cx="983.5" cy="482.4" r="4.1" fill="#ea4d62"/>
<text x="990.2" y="485.5" font-size="8.6" fill="#dbe3ee" textLength="24.4" lengthAdjust="spacingAndGlyphs">62 0em</text>
<path d="M1031.9,498.5 L1031.9,493.9 Q1031.9,492.1 1033.7,492.1 L1040.1,492.1 Q1041.9,492.1 1041.9,493.9 L1041.9,498.5 Z" fill="#1fa2c4"/>
<path d="M1043.9,498.6 L1043.9,483.2 Q1043.9,481.4 1045.7,481.4 L1052.2,481.4 Q1054.0,481.4 1054.0,483.2 L1054.0,498.6 Z" fill="#1fa2c4"/>
<path d="M1055.0,498.6 L1055.0,477.8 Q1055.0,476.0 1056.8,476.0 L1062.6,476.0 Q1064.4,476.0 1064.4,477.8 L1064.4,498.6 Z" fill="#1fa2c4"/>
<path d="M1066.0,498.7 L1066.0,466.1 Q1066.0,464.3 1067.8,464.3 L1073.9,464.3 Q1075.7,464.3 1075.7,466.1 L1075.7,498.7 Z" fill="#1fa2c4"/>
<path d="M1077.9,498.8 L1077.9,488.8 Q1077.9,487.0 1079.7,487.0 L1087.1,487.0 Q1088.9,487.0 1088.9,488.8 L1088.9,498.8 Z" fill="#1fa2c4"/>
<path d="M1091.5,498.9 L1091.5,472.2 Q1091.5,470.4 1093.3,470.4 L1102.4,470.4 Q1104.2,470.4 1104.2,472.2 L1104.2,498.9 Z" fill="#1fa2c4"/>
<path d="M1107.6,498.9 L1107.6,457.7 Q1107.6,455.9 1109.4,455.9 L1121.3,455.9 Q1123.1,455.9 1123.1,457.7 L1123.1,498.9 Z" fill="#1fa2c4"/>
<path d="M1128.1,499.1 L1128.1,472.6 Q1128.1,470.8 1129.9,470.8 L1137.5,470.8 Q1139.3,470.8 1139.3,472.6 L1139.3,499.1 Z" fill="#1fa2c4"/>
<path d="M1141.2,499.1 L1141.2,463.7 Q1141.2,461.9 1143.0,461.9 L1149.4,461.9 Q1151.2,461.9 1151.2,463.7 L1151.2,499.1 Z" fill="#1fa2c4"/>
<path d="M1152.8,499.2 L1152.8,458.5 Q1152.8,456.7 1154.6,456.7 L1160.6,456.7 Q1162.4,456.7 1162.4,458.5 L1162.4,499.2 Z" fill="#1fa2c4"/>
<path d="M1163.9,499.3 L1163.9,447.1 Q1163.9,445.3 1165.7,445.3 L1172.3,445.3 Q1174.1,445.3 1174.1,447.1 L1174.1,499.3 Z" fill="#1fa2c4"/>
<path d="M1178.9,499.4 L1178.9,463.7 Q1178.9,461.9 1180.7,461.9 L1192.0,461.9 Q1193.8,461.9 1193.8,463.7 L1193.8,499.4 Z" fill="#1fa2c4"/>
<path d="M1198.4,499.5 L1198.4,434.0 Q1198.4,432.2 1200.2,432.2 L1213.3,432.2 Q1215.1,432.2 1215.1,434.0 L1215.1,499.5 Z" fill="#1fa2c4"/>
<text x="1036.7" y="509.2" font-size="7.6" fill="#7e8ba2" text-anchor="middle">1</text>
<text x="1051.4" y="509.2" font-size="7.6" fill="#7e8ba2" text-anchor="middle">1</text>
<text x="1083.5" y="509.2" font-size="7.6" fill="#7e8ba2" text-anchor="middle">54</text>
<text x="1115.6" y="509.2" font-size="7.6" fill="#7e8ba2" text-anchor="middle">80</text>
<text x="1148.4" y="509.2" font-size="7.6" fill="#7e8ba2" text-anchor="middle">10</text>
<text x="1182.9" y="509.2" font-size="7.6" fill="#7e8ba2" text-anchor="middle">3</text>
<text x="1206.6" y="509.2" font-size="7.6" fill="#7e8ba2" text-anchor="middle">10</text>
<text x="227.8" y="508.2" font-size="15" fill="#f1f5fa" textLength="73" lengthAdjust="spacingAndGlyphs" stroke="#f1f5fa" stroke-width="0.35">Foscertions</text>
<rect x="443.0" y="496.0" width="29.0" height="15.0" rx="4" fill="#0a2b3a"/>
<text x="458.9" y="507.4" font-size="9.4" fill="#7dd6b4" text-anchor="middle" textLength="18.2" lengthAdjust="spacingAndGlyphs">Rsus</text>
<path d="M479.6,501.85 L483.1,505.35 L486.6,501.85" fill="none" stroke="#d3dcec" stroke-width="1.5" stroke-linecap="round" stroke-linejoin="round"/>
<line x1="244.6" y1="519.9" x2="487.6" y2="519.9" stroke="#1d2e4e" stroke-width="1"/>
<line x1="244.6" y1="519.4" x2="244.6" y2="648.9" stroke="#1d2e4e" stroke-width="1"/>
<line x1="244.6" y1="648.9" x2="472" y2="648.9" stroke="#1d2e4e" stroke-width="1"/>
<text x="239.8" y="524.0999999999999" font-size="9.4" fill="#7e8ba2" text-anchor="end">00</text>
<text x="239.8" y="547.0" font-size="9.4" fill="#7e8ba2" text-anchor="end">4s</text>
<text x="239.8" y="573.5999999999999" font-size="9.4" fill="#7e8ba2" text-anchor="end">88</text>
<text x="239.8" y="605.3" font-size="9.4" fill="#7e8ba2" text-anchor="end">20</text>
<text x="239.8" y="635.0999999999999" font-size="9.4" fill="#7e8ba2" text-anchor="end">25</text>
<text x="239.8" y="652.1999999999999" font-size="9.4" fill="#7e8ba2" text-anchor="end">0</text>
<rect x="261.7" y="562.0" width="23.3" height="85.8" rx="0.8" fill="#e9f8fb"/>
<rect x="311.7" y="526.2" width="23.3" height="121.6" rx="0.8" fill="#e9f8fb"/>
<rect x="359.0" y="557.8" width="23.3" height="90.0" rx="0.8" fill="#e9f8fb"/>
<rect x="406.0" y="519.9" width="23.4" height="127.9" rx="0.8" fill="#e9f8fb"/>
<path d="M249.2,603.7 C251.3,603.9 257.2,604.7 261.7,604.7 C266.2,604.7 272.7,604.4 276.2,603.7 C279.7,603.0 279.4,602.6 282.5,600.5 C285.6,598.4 290.8,593.6 295.0,591.2 C299.2,588.8 303.3,588.0 307.5,586.0 C311.7,584.0 316.5,580.1 320.0,579.3 C323.5,578.5 325.5,580.7 328.3,581.2 C331.1,581.7 333.6,581.8 336.7,582.2 C339.8,582.7 344.3,582.8 347.1,583.9 C349.9,585.0 351.2,586.9 353.3,589.1 C355.4,591.4 357.5,595.6 359.6,597.4 C361.7,599.2 363.4,599.0 365.8,599.9 C368.2,600.8 371.4,602.9 374.2,603.0 C377.0,603.1 380.2,601.0 382.5,600.5 C384.8,600.0 385.8,601.6 387.7,599.9 C389.6,598.2 391.4,592.2 394.0,590.1 C396.6,588.0 400.4,588.2 403.3,587.0 C406.2,585.8 408.9,583.9 411.7,582.8 C414.5,581.7 417.6,580.3 420.0,580.3 C422.4,580.3 424.1,581.6 426.2,582.8 C428.3,584.0 429.7,586.2 432.5,587.4 C435.3,588.6 439.8,589.0 442.9,590.1 C446.0,591.2 448.2,592.6 451.2,593.9 C454.1,595.2 458.0,598.6 460.6,598.0 C463.2,597.4 464.8,592.8 466.9,590.1 C469.0,587.4 471.4,583.2 473.1,581.8 C474.8,580.4 476.6,581.8 477.3,581.8" fill="none" stroke="#dcc050" stroke-width="1.2" stroke-linejoin="round" stroke-linecap="round"/>
<text x="480.4" y="543.5" font-size="9.6" fill="#a9b5c8" textLength="9.4" lengthAdjust="spacingAndGlyphs">16</text>
<text x="480.4" y="562.9" font-size="9.6" fill="#a9b5c8" textLength="9.4" lengthAdjust="spacingAndGlyphs">16</text>
<text x="480.4" y="583.6999999999999" font-size="9.6" fill="#a9b5c8" textLength="9.4" lengthAdjust="spacingAndGlyphs">15</text>
<text x="480.4" y="603.9" font-size="9.6" fill="#a9b5c8" textLength="9.4" lengthAdjust="spacingAndGlyphs">16</text>
<text x="480.4" y="623.6999999999999" font-size="9.6" fill="#a9b5c8" textLength="9.4" lengthAdjust="spacingAndGlyphs">16</text>
<text x="480.4" y="642.9" font-size="9.6" fill="#a9b5c8" textLength="9.4" lengthAdjust="spacingAndGlyphs">19</text>
<text x="273.5" y="664.3" font-size="9.6" fill="#9ba8bd" text-anchor="middle" textLength="31.3" lengthAdjust="spacingAndGlyphs">Fengilte</text>
<text x="323.1" y="664.3" font-size="9.6" fill="#9ba8bd" text-anchor="middle" textLength="36.2" lengthAdjust="spacingAndGlyphs">Ctal 2lits</text>
<text x="369.7" y="664.3" font-size="9.6" fill="#9ba8bd" text-anchor="middle" textLength="32.7" lengthAdjust="spacingAndGlyphs">Flon Loe</text>
<text x="417.7" y="664.3" font-size="9.6" fill="#9ba8bd" text-anchor="middle" textLength="33.8" lengthAdjust="spacingAndGlyphs">Deosrigs</text>
<text x="464" y="664.3" font-size="9.6" fill="#9ba8bd" text-anchor="middle" textLength="29.5" lengthAdjust="spacingAndGlyphs">Cionige</text>
<text x="523.4" y="510.4" font-size="15" fill="#f1f5fa" textLength="65" lengthAdjust="spacingAndGlyphs" stroke="#f1f5fa" stroke-width="0.35">Everyvatis</text>
<rect x="804.5" y="500.0" width="23.1" height="11.4" rx="2" fill="#07323a"/>
<text x="816.1" y="509.2" font-size="9.4" fill="#6ecda5" text-anchor="middle" textLength="19.4" lengthAdjust="spacingAndGlyphs">Roxel</text>
<path d="M836.4000000000001,503.75 L839.7,507.04999999999995 L843.0,503.75" fill="none" stroke="#dbe3ef" stroke-width="1.5" stroke-linecap="round" stroke-linejoin="round"/>
<line x1="539" y1="524.8" x2="848" y2="524.8" stroke="#1d2d4c" stroke-width="1"/>
<line x1="539" y1="555" x2="848" y2="555" stroke="#1d2d4c" stroke-width="1"/>
<line x1="539" y1="585.5" x2="848" y2="585.5" stroke="#1d2d4c" stroke-width="1"/>
<line x1="539" y1="615.2" x2="848" y2="615.2" stroke="#1d2d4c" stroke-width="1"/>
<line x1="539" y1="643.9" x2="848" y2="643.9" stroke="#1d2d4c" stroke-width="1"/>
<text x="533.6" y="528.0999999999999" font-size="9.2" fill="#7e8ba2" text-anchor="end">100</text>
<text x="533.6" y="558.9" font-size="9.2" fill="#7e8ba2" text-anchor="end">80</text>
<text x="533.6" y="588.3" font-size="9.2" fill="#7e8ba2" text-anchor="end">10</text>
<text x="533.6" y="618.9" font-size="9.2" fill="#7e8ba2" text-anchor="end">20</text>
<text x="533.6" y="647.3" font-size="9.2" fill="#7e8ba2" text-anchor="end">0</text>
<path d="M539.8,584.2 C541.8,584.2 547.9,584.2 552.0,584.2 C556.1,584.2 561.5,583.8 564.4,584.2 C567.3,584.6 567.5,585.1 569.3,586.7 C571.1,588.3 573.3,591.2 575.4,593.6 C577.5,596.0 578.9,598.8 581.6,600.9 C584.3,603.0 588.1,604.0 591.4,606.3 C594.7,608.5 597.9,612.1 601.2,614.4 C604.5,616.6 608.1,619.4 611.0,619.8 C613.9,620.2 615.9,619.6 618.4,616.9 C620.9,614.2 623.1,608.1 625.8,603.4 C628.5,598.7 631.5,593.9 634.4,588.7 C637.2,583.5 640.4,575.5 642.9,572.0 C645.4,568.5 646.8,568.0 649.1,567.8 C651.4,567.6 654.0,569.2 656.5,571.0 C659.0,572.8 661.1,576.3 663.8,578.8 C666.4,581.3 669.7,585.3 672.4,586.2 C675.1,587.1 676.9,585.8 679.8,584.2 C682.7,582.7 686.7,577.6 689.6,576.9 C692.5,576.2 694.8,578.7 697.0,580.1 C699.2,581.5 701.1,584.2 703.1,585.5 C705.1,586.8 707.0,585.5 709.2,587.9 C711.5,590.3 713.7,595.3 716.6,599.7 C719.5,604.1 723.7,611.1 726.4,614.4 C729.1,617.7 730.5,618.8 732.6,619.4 C734.7,620.0 736.5,619.8 738.7,618.1 C741.0,616.5 743.7,612.6 746.1,609.5 C748.5,606.4 751.0,602.0 753.4,599.7 C755.8,597.5 758.1,596.0 760.8,596.0 C763.5,596.0 766.7,598.6 769.4,599.7 C772.1,600.9 774.5,603.1 776.8,602.9 C779.0,602.7 780.6,600.7 782.9,598.5 C785.1,596.3 787.4,592.6 790.3,589.9 C793.2,587.2 796.8,585.2 800.1,582.5 C803.4,579.8 806.6,576.1 809.9,573.9 C813.2,571.6 816.6,569.2 819.7,569.0 C822.8,568.8 824.6,571.1 828.3,572.7 C832.0,574.3 839.5,577.8 841.8,578.8" fill="none" stroke="#e8473f" stroke-width="1.4" stroke-linejoin="round" stroke-linecap="round"/>
<text x="541.8" y="660.8" font-size="9.4" fill="#7e8ba2" text-anchor="middle">0</text>
<text x="595.8" y="660.8" font-size="9.4" fill="#7e8ba2" text-anchor="middle">55</text>
<line x1="595.1999999999999" y1="642" x2="595.1999999999999" y2="647" stroke="#3a4a66" stroke-width="0.9"/>
<text x="650.3" y="660.8" font-size="9.4" fill="#7e8ba2" text-anchor="middle">20</text>
<line x1="649.6999999999999" y1="642" x2="649.6999999999999" y2="647" stroke="#3a4a66" stroke-width="0.9"/>
<text x="704.8" y="660.8" font-size="9.4" fill="#7e8ba2" text-anchor="middle">8</text>
<line x1="704.1999999999999" y1="642" x2="704.1999999999999" y2="647" stroke="#3a4a66" stroke-width="0.9"/>
<text x="757.1" y="660.8" font-size="9.4" fill="#7e8ba2" text-anchor="middle">V0</text>
<text x="811.9" y="660.8" font-size="9.4" fill="#7e8ba2" text-anchor="middle">9</text>
<line x1="811.3" y1="642" x2="811.3" y2="647" stroke="#3a4a66" stroke-width="0.9"/>
<text x="883.8" y="550.6" font-size="15" fill="#f1f5fa" textLength="85.4" lengthAdjust="spacingAndGlyphs" stroke="#f1f5fa" stroke-width="0.35">Poscedlinedc</text>
<rect x="1174.8" y="540.0" width="31.6" height="15.0" rx="2" fill="#082c38"/>
<text x="1193" y="551.6" font-size="10" fill="#52bf8f" text-anchor="middle" textLength="20.4" lengthAdjust="spacingAndGlyphs">Doet</text>
<path d="M1214.2,545.65 L1217.7,549.15 L1221.2,545.65" fill="none" stroke="#e3e9f3" stroke-width="1.6" stroke-linecap="round" stroke-linejoin="round"/>
<line x1="908.4" y1="559.8" x2="1224" y2="559.8" stroke="#1d2e4e" stroke-width="1"/>
<line x1="908.4" y1="559.4" x2="908.4" y2="649.4" stroke="#1d2e4e" stroke-width="1"/>
<text x="902.8" y="567.2" font-size="9" fill="#7e8ba2" text-anchor="end">10</text>
<text x="902.8" y="588.2" font-size="9" fill="#7e8ba2" text-anchor="end">29</text>
<text x="902.8" y="609.2" font-size="9" fill="#7e8ba2" text-anchor="end">55</text>
<text x="902.8" y="629.2" font-size="9" fill="#7e8ba2" text-anchor="end">58</text>
<text x="902.8" y="650.2" font-size="9" fill="#7e8ba2" text-anchor="end">0</text>
<text transform="translate(888.2,617) rotate(-90)" font-size="7" fill="#7e8ba2" textLength="22" lengthAdjust="spacingAndGlyphs">Festes</text>
<rect x="911.1" y="577.7" width="9.1" height="71.1" rx="0.6" fill="#1fa2c4"/>
<rect x="921.6" y="616.8" width="9.1" height="32.0" rx="0.6" fill="#1fa2c4"/>
<rect x="932.0" y="616.8" width="9.1" height="32.1" rx="0.6" fill="#1fa2c4"/>
<rect x="942.5" y="616.8" width="9.1" height="32.1" rx="0.6" fill="#1fa2c4"/>
<rect x="953.0" y="612.8" width="9.1" height="36.2" rx="0.6" fill="#1fa2c4"/>
<rect x="963.5" y="604.9" width="9.1" height="44.1" rx="0.6" fill="#1fa2c4"/>
<rect x="973.9" y="607.0" width="9.1" height="42.1" rx="0.6" fill="#1fa2c4"/>
<rect x="984.4" y="606.0" width="9.1" height="43.1" rx="0.6" fill="#1fa2c4"/>
<rect x="994.9" y="601.8" width="9.1" height="47.4" rx="0.6" fill="#1fa2c4"/>
<rect x="1005.3" y="592.7" width="9.1" height="56.5" rx="0.6" fill="#1fa2c4"/>
<rect x="1015.8" y="590.5" width="9.1" height="58.8" rx="0.6" fill="#1fa2c4"/>
<rect x="1026.3" y="596.3" width="9.1" height="53.0" rx="0.6" fill="#1fa2c4"/>
<rect x="1036.7" y="601.2" width="9.1" height="48.1" rx="0.6" fill="#1fa2c4"/>
<rect x="1047.2" y="607.9" width="9.1" height="41.5" rx="0.6" fill="#1fa2c4"/>
<rect x="1057.7" y="600.3" width="9.1" height="49.1" rx="0.6" fill="#1fa2c4"/>
<rect x="1068.2" y="592.4" width="9.1" height="57.1" rx="0.6" fill="#1fa2c4"/>
<rect x="1078.6" y="592.7" width="9.1" height="56.8" rx="0.6" fill="#1fa2c4"/>
<rect x="1089.1" y="594.5" width="9.1" height="55.1" rx="0.6" fill="#1fa2c4"/>
<rect x="1099.6" y="600.3" width="9.1" height="49.3" rx="0.6" fill="#1fa2c4"/>
<rect x="1110.0" y="589.0" width="9.1" height="60.7" rx="0.6" fill="#1fa2c4"/>
<rect x="1120.5" y="588.7" width="9.1" height="61.0" rx="0.6" fill="#1fa2c4"/>
<rect x="1131.0" y="588.7" width="9.1" height="61.0" rx="0.6" fill="#1fa2c4"/>
<rect x="1141.4" y="579.2" width="9.1" height="70.6" rx="0.6" fill="#1fa2c4"/>
<rect x="1151.9" y="577.4" width="9.1" height="72.4" rx="0.6" fill="#1fa2c4"/>
<rect x="1162.4" y="567.0" width="9.1" height="82.9" rx="0.6" fill="#1fa2c4"/>
<rect x="1172.8" y="567.7" width="9.1" height="82.2" rx="0.6" fill="#1fa2c4"/>
<rect x="1183.3" y="572.2" width="9.1" height="77.8" rx="0.6" fill="#1fa2c4"/>
<rect x="1193.8" y="576.8" width="9.1" height="73.2" rx="0.6" fill="#1fa2c4"/>
<rect x="1204.3" y="582.3" width="9.1" height="67.8" rx="0.6" fill="#1fa2c4"/>
<rect x="1214.7" y="586.6" width="9.1" height="63.5" rx="0.6" fill="#1fa2c4"/>
<text x="917" y="662.6" font-size="8.8" fill="#7e8ba2" text-anchor="middle">0</text>
<text x="945.4" y="662.6" font-size="8.8" fill="#7e8ba2" text-anchor="middle">4</text>
<text x="966.8" y="662.6" font-size="8.8" fill="#7e8ba2" text-anchor="middle">4</text>
<text x="987.5" y="662.6" font-size="8.8" fill="#7e8ba2" text-anchor="middle">1</text>
<text x="1014" y="662.6" font-size="8.8" fill="#7e8ba2" text-anchor="middle">50</text>
<text x="1040.6" y="662.6" font-size="8.8" fill="#7e8ba2" text-anchor="middle">60</text>
<text x="1066.8" y="662.6" font-size="8.8" fill="#7e8ba2" text-anchor="middle">20</text>
<text x="1095.5" y="662.6" font-size="8.8" fill="#7e8ba2" text-anchor="middle">10</text>
<text x="1130" y="662.6" font-size="8.8" fill="#7e8ba2" text-anchor="middle">O2</text>
<text x="1163.5" y="662.6" font-size="8.8" fill="#7e8ba2" text-anchor="middle">10</text>
<text x="1191.6" y="662.6" font-size="8.8" fill="#7e8ba2" text-anchor="middle">201</text>
<text x="1217" y="662.6" font-size="8.8" fill="#7e8ba2" text-anchor="middle">730</text>
</svg>
</body>
</html>
